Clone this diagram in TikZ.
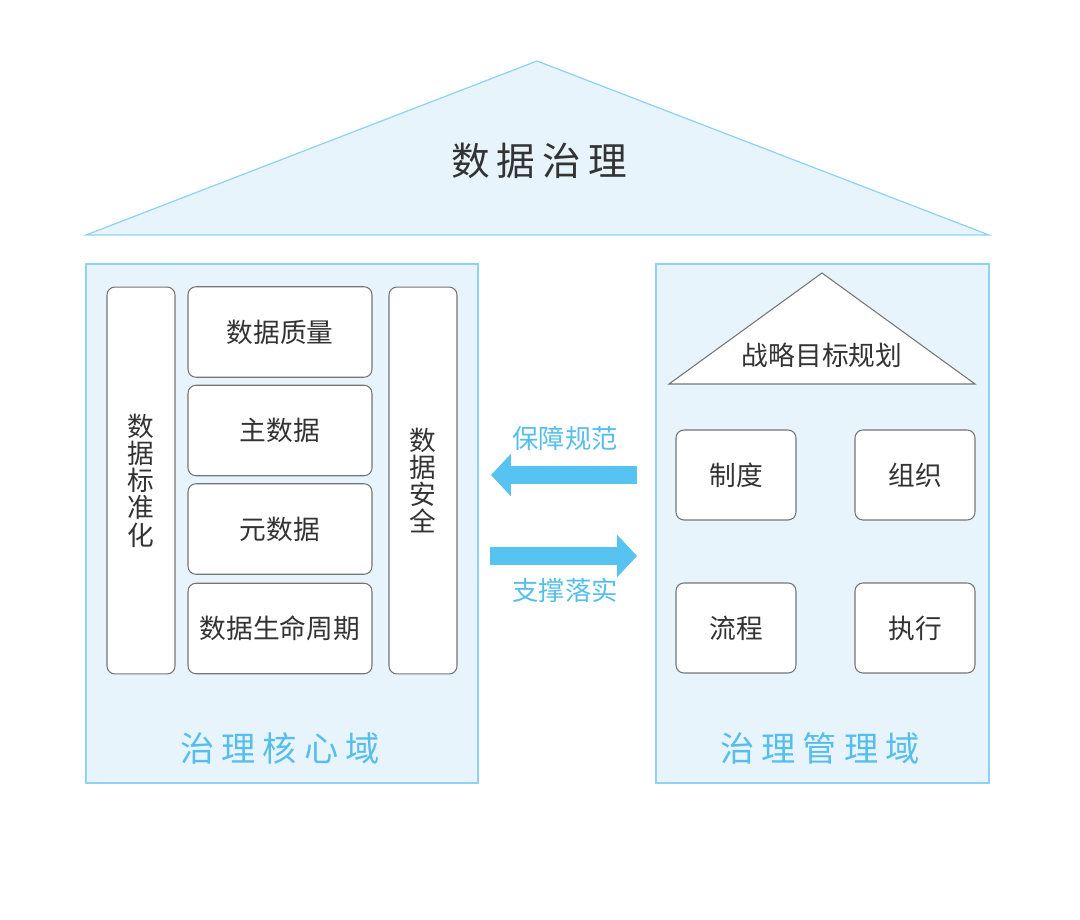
\documentclass[tikz,border=0pt]{standalone}
\usepackage{fontspec}
\newfontfamily\cjkfont{Noto Sans CJK SC}
\usetikzlibrary{arrows.meta,positioning}
\definecolor{paleblue}{HTML}{E8F4FB}
\definecolor{lineblue}{HTML}{8ED4F2}
\definecolor{arrowblue}{HTML}{56C3F0}
\definecolor{labelblue}{HTML}{56BEEC}
\definecolor{textgray}{HTML}{333333}
\definecolor{boxgray}{HTML}{757575}

\begin{document}
\begin{tikzpicture}[x=0.02cm,y=-0.02cm,
    panel/.style={draw=lineblue, fill=paleblue, line width=0.7pt},
    item/.style={draw=boxgray, fill=white, rounded corners=4.5pt, line width=0.6pt,
        text=textgray, font=\cjkfont\fontsize{15.2}{15.5}\selectfont, align=center, inner sep=0pt},
    domaintext/.style={text=labelblue, font=\cjkfont\fontsize{19.5}{21}\selectfont},
    flowlabel/.style={text=labelblue, font=\cjkfont\fontsize{15}{16}\selectfont},
    bigarrow/.style={draw=arrowblue, line width=10.8pt, -{Triangle[length=11.3pt, width=23.5pt]}}]
    \useasboundingbox (0,0) rectangle (1080,920);

    % Draw the roof
    \draw[panel] (537,61) -- (989,235) -- (86,235) -- cycle;
    \node[text=textgray, font=\cjkfont\fontsize{22}{23}\selectfont] (title) at (539,161)
        {数\hspace{4pt}据\hspace{4pt}治\hspace{4pt}理};

    % Core domain on the left
    \draw[panel] (86,264) rectangle (478,783);
    \node[item, minimum width=1.36cm, minimum height=7.74cm] (standard) at (141,480.5) {数\\据\\标\\准\\化};
    \node[item, minimum width=1.36cm, minimum height=7.74cm] (security) at (423,480.5) {数\\据\\安\\全};
    \node[item, minimum width=3.68cm, minimum height=1.81cm] (quality) at (280,332) {数据质量};
    \node[item, minimum width=3.68cm, minimum height=1.81cm] (master) at (280,430.5) {主数据};
    \node[item, minimum width=3.68cm, minimum height=1.81cm] (meta) at (280,529) {元数据};
    \node[item, minimum width=3.68cm, minimum height=1.81cm] (lifecycle) at (280,628.5) {数据生命周期};
    \node[domaintext] (core) at (280,748) {治\hspace{4pt}理\hspace{4pt}核\hspace{4pt}心\hspace{4pt}域};

    % Management domain on the right
    \draw[panel] (656,264) rectangle (989,783);
    \draw[draw=boxgray, fill=white, line width=0.6pt] (822,273) -- (975,384) -- (669,384) -- cycle;
    \node[text=textgray, font=\cjkfont\fontsize{15.2}{16}\selectfont] (strategy) at (822,355) {战略目标规划};
    \node[item, minimum width=2.4cm, minimum height=1.8cm] (policy) at (736,475) {制度};
    \node[item, minimum width=2.4cm, minimum height=1.8cm] (org) at (915,475) {组织};
    \node[item, minimum width=2.4cm, minimum height=1.8cm] (process) at (736,628) {流程};
    \node[item, minimum width=2.4cm, minimum height=1.8cm] (execute) at (915,628) {执行};
    \node[domaintext] (manage) at (820,748) {治\hspace{4pt}理\hspace{4pt}管\hspace{4pt}理\hspace{4pt}域};

    % Arrows between the two domains
    \coordinate (guardR) at (637,475);
    \coordinate (guardL) at (491,475);
    \coordinate (backL) at (490,556);
    \coordinate (backR) at (637,556);
    \draw[bigarrow] (guardR) -- (guardL);
    \draw[bigarrow] (backL) -- (backR);
    \node[flowlabel] (guard) at (565,438) {保障规范};
    \node[flowlabel] (back) at (565,590) {支撑落实};

\end{tikzpicture}
\end{document}
